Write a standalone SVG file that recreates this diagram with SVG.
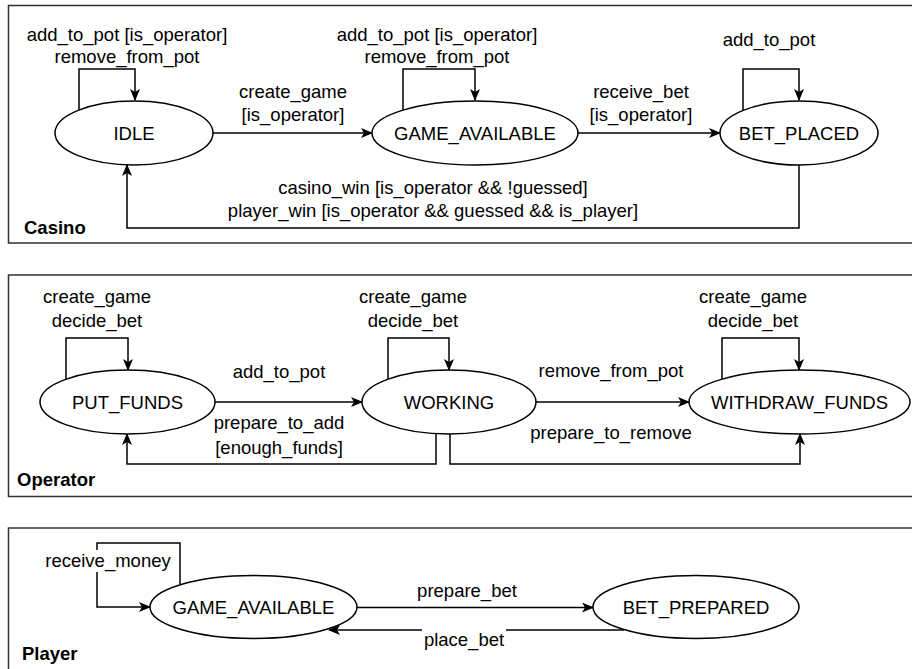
<svg xmlns="http://www.w3.org/2000/svg" width="912" height="669" viewBox="0 0 912 669">
<style>
text{font-family:"Liberation Sans",Arial,sans-serif;font-size:18.5px;fill:#000}
.c{text-anchor:middle}
.b{font-weight:bold}
.frame{fill:#fff;stroke:#333;stroke-width:1.5}
.st{fill:#fff;stroke:#000;stroke-width:1.5}
.e{fill:none;stroke:#000;stroke-width:1.5;marker-end:url(#arr)}
.bg{fill:#fff}
</style>
<defs>
<marker id="arr" markerUnits="userSpaceOnUse" viewBox="0 0 12 10" markerWidth="12" markerHeight="10" refX="11" refY="5" orient="auto">
<path d="M0,0 L12,5 L0,10 L3,5 z" fill="#000"/>
</marker>
</defs>

<g id="casino">
<rect class="frame" x="8.5" y="5.5" width="910" height="237.5"/>
<text class="b" x="24" y="234">Casino</text>
</g>
<g id="operator">
<rect class="frame" x="8.5" y="275" width="910" height="221.5"/>
<text class="b" x="17" y="486">Operator</text>
</g>
<g id="player">
<rect class="frame" x="8.5" y="528" width="910" height="160"/>
<text class="b" x="22" y="660">Player</text>
</g>

<g id="connectors">
<!-- Casino -->
<path class="e" d="M79,110 V69 H135 V100"/>
<path class="e" d="M213,133 H372"/>
<path class="e" d="M403,110 V69 H475 V100"/>
<path class="e" d="M578,133 H720"/>
<path class="e" d="M743,110 V69 H799 V100"/>
<path class="e" d="M799,165 V228 H127 V165"/>
<!-- Operator -->
<path class="e" d="M66,379 V338 H128 V370"/>
<path class="e" d="M215,402 H362"/>
<path class="e" d="M388,379 V338 H449 V370"/>
<path class="e" d="M536,402 H689"/>
<path class="e" d="M722,379 V338 H799 V370"/>
<path class="e" d="M436,434 V464 H127 V434"/>
<path class="e" d="M450,434 V464 H800 V434"/>
<!-- Player -->
<path class="e" d="M180,584 V543 H97 V607 H150"/>
<path class="e" d="M357,607.5 H593"/>
<path class="e" d="M624,630 H329"/>
</g>

<g id="labels">
<text class="c" x="127" y="41">add_to_pot [is_operator]</text>
<text class="c" x="127" y="63">remove_from_pot</text>
<text class="c" x="293" y="98">create_game</text>
<text class="c" x="293" y="121">[is_operator]</text>
<text class="c" x="437" y="41">add_to_pot [is_operator]</text>
<text class="c" x="437" y="63">remove_from_pot</text>
<text class="c" x="641" y="98">receive_bet</text>
<text class="c" x="641" y="121">[is_operator]</text>
<text class="c" x="769" y="46">add_to_pot</text>
<text class="c" x="433" y="194">casino_win [is_operator &amp;&amp; !guessed]</text>
<text class="c" x="433" y="217">player_win [is_operator &amp;&amp; guessed &amp;&amp; is_player]</text>

<text class="c" x="97" y="303">create_game</text>
<text class="c" x="97" y="327">decide_bet</text>
<text class="c" x="413" y="303">create_game</text>
<text class="c" x="413" y="327">decide_bet</text>
<text class="c" x="753" y="303">create_game</text>
<text class="c" x="753" y="327">decide_bet</text>
<text class="c" x="279" y="378">add_to_pot</text>
<text class="c" x="279" y="429">prepare_to_add</text>
<text class="c" x="279" y="454">[enough_funds]</text>
<text class="c" x="611" y="377">remove_from_pot</text>
<text class="c" x="611" y="439">prepare_to_remove</text>

<rect class="bg" x="44" y="550" width="132" height="22"/>
<text class="c" x="108" y="567">receive_money</text>
<text class="c" x="467" y="597">prepare_bet</text>
<rect class="bg" x="422" y="628" width="84" height="22"/>
<text class="c" x="464" y="646">place_bet</text>
</g>

<g id="IDLE"><ellipse class="st" cx="134" cy="133" rx="79" ry="32"/><text class="c" x="134" y="139.5">IDLE</text></g>
<g id="GAME_AVAILABLE_casino"><ellipse class="st" cx="475" cy="133" rx="103" ry="32"/><text class="c" x="475" y="139.5">GAME_AVAILABLE</text></g>
<g id="BET_PLACED"><ellipse class="st" cx="799" cy="133" rx="79" ry="32"/><text class="c" x="799" y="139.5">BET_PLACED</text></g>

<g id="PUT_FUNDS"><ellipse class="st" cx="127.5" cy="402" rx="87.5" ry="32"/><text class="c" x="127.5" y="408.5">PUT_FUNDS</text></g>
<g id="WORKING"><ellipse class="st" cx="449" cy="402" rx="87" ry="32"/><text class="c" x="449" y="408.5">WORKING</text></g>
<g id="WITHDRAW_FUNDS"><ellipse class="st" cx="799.5" cy="402" rx="110.5" ry="32"/><text class="c" x="799.5" y="408.5">WITHDRAW_FUNDS</text></g>

<g id="GAME_AVAILABLE_player"><ellipse class="st" cx="253.5" cy="607" rx="103.5" ry="31.5"/><text class="c" x="253.5" y="613.5">GAME_AVAILABLE</text></g>
<g id="BET_PREPARED"><ellipse class="st" cx="696" cy="607" rx="103" ry="31.5"/><text class="c" x="696" y="613.5">BET_PREPARED</text></g>
</svg>
